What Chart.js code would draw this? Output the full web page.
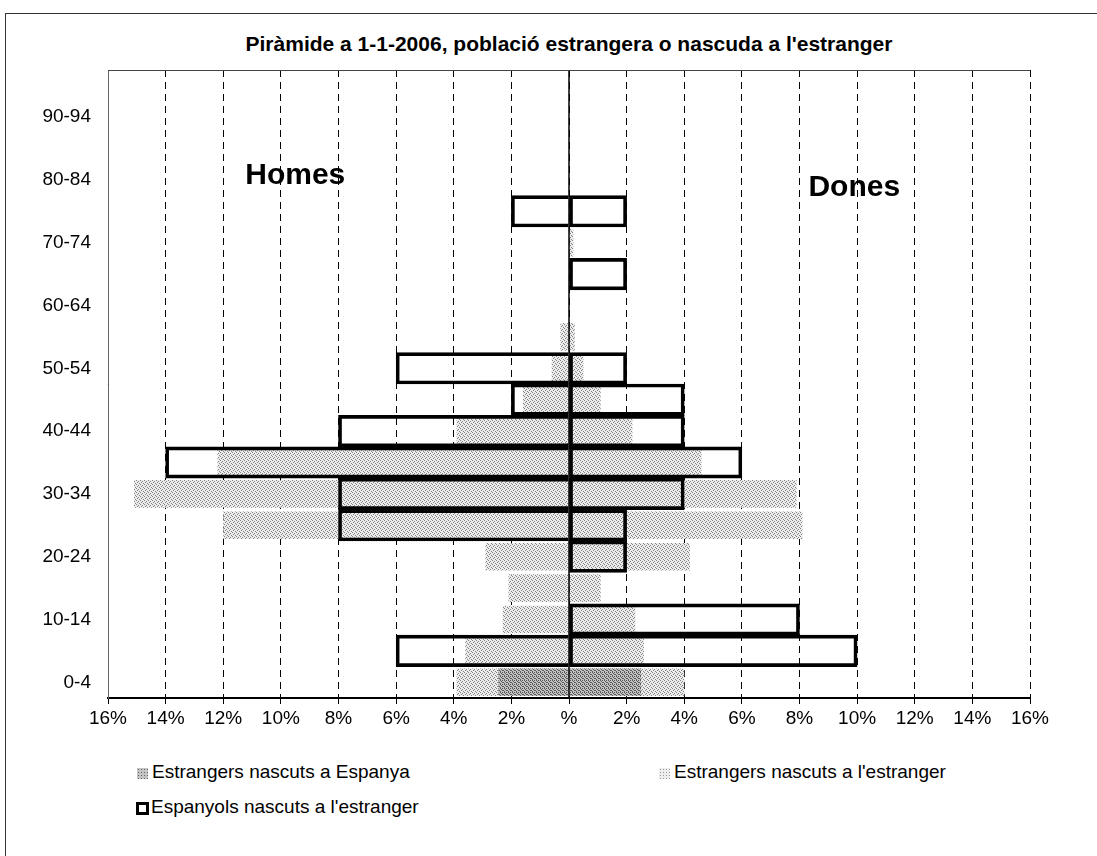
<!DOCTYPE html>
<html>
<head>
<meta charset="utf-8">
<script src="https://cdn.jsdelivr.net/npm/chart.js@4.4.0/dist/chart.umd.min.js"></script>
<style>
body { margin: 0; background: #fff; font-family: "Liberation Sans", Arial, sans-serif; color: #000; }
#page { position: relative; width: 1097px; height: 856px; overflow: hidden; background: #fff; }
#frame { position: absolute; left: 5px; top: 13px; right: -10px; bottom: -10px; border-left: 1px solid #333; border-top: 1px solid #333; }
#title { position: absolute; left: 0; top: 32px; width: 1138px; text-align: center; font-weight: bold; font-size: 21px; }
#chart { position: absolute; left: 0; top: 0; }
.leg { position: absolute; font-size: 19px; white-space: nowrap; }
.sw { display: inline-block; width: 11px; height: 11px; margin-right: 4px; vertical-align: -1px; box-sizing: border-box; }
.sw-dark { background-color: #c4c4c4; background-image: radial-gradient(#666 0.8px, transparent 0.9px); background-size: 3px 3px; }
.sw-light { background-color: #eee; background-image: radial-gradient(#999 0.8px, transparent 0.9px); background-size: 3px 3px; }
.sw-out { border: 3px solid #000; background: #fff; width: 13px; height: 13px; vertical-align: -2px; margin-right: 2px; }
</style>
</head>
<body>
<div id="page">
  <div id="frame"></div>
  <div id="title">Piràmide a 1-1-2006, població estrangera o nascuda a l'estranger</div>
  <canvas id="chart" width="1097" height="760"></canvas>
  <div class="leg" style="left:137px; top:761px;"><span class="sw sw-dark"></span>Estrangers nascuts a Espanya</div>
  <div class="leg" style="left:659px; top:761px;"><span class="sw sw-light"></span>Estrangers nascuts a l'estranger</div>
  <div class="leg" style="left:136px; top:796px;"><span class="sw sw-out"></span>Espanyols nascuts a l'estranger</div>
</div>
<script>
// age groups, bottom to top
var ageGroups = ['0-4', '5-9', '10-14', '15-19', '20-24', '25-29', '30-34', '35-39', '40-44', '45-49',
                 '50-54', '55-59', '60-64', '65-69', '70-74', '75-79', '80-84', '85-89', '90-94', '95-99'];

// % of population, men shown on the left
var menBornSpain     = [2.45, 0, 0, 0, 0, 0, 0, 0, 0, 0, 0, 0, 0, 0, 0, 0, 0, 0, 0, 0];
var womenBornSpain   = [2.5, 0, 0, 0, 0, 0, 0, 0, 0, 0, 0, 0, 0, 0, 0, 0, 0, 0, 0, 0];
var menBornAbroad    = [3.9, 3.6, 2.3, 2.1, 2.9, 12.0, 15.1, 12.2, 3.9, 1.6, 0.6, 0.3, 0, 0, 0, 0, 0, 0, 0, 0];
var womenBornAbroad  = [4.0, 2.6, 2.3, 1.1, 4.2, 8.1, 7.9, 4.6, 2.2, 1.1, 0.5, 0.2, 0, 0, 0.15, 0, 0, 0, 0, 0];
var menSpanish       = [0, 6, 0, 0, 0, 8, 8, 14, 8, 2, 6, 0, 0, 0, 0, 2, 0, 0, 0, 0];
var womenSpanish     = [0, 10, 8, 0, 2, 2, 4, 6, 4, 4, 2, 0, 0, 2, 0, 2, 0, 0, 0, 0];

var xMin = -16, xMax = 16, xStep = 2;

function neg(arr) { return arr.map(function (v) { return v ? -v : null; }); }
function pos(arr) { return arr.map(function (v) { return v ? v : null; }); }

// stippled fills like the printed original
function makePattern(bg, dot, pts) {
    var c = document.createElement('canvas');
    c.width = 4; c.height = 4;
    var g = c.getContext('2d');
    g.fillStyle = bg; g.fillRect(0, 0, 4, 4);
    g.fillStyle = dot;
    pts.forEach(function (p) { g.fillRect(p[0], p[1], 1, 1); });
    return g.createPattern(c, 'repeat');
}
var ctx = document.getElementById('chart').getContext('2d');
var lightFill = makePattern('#ececec', '#828282', [[0, 0], [2, 1], [1, 2], [3, 3]]);
var darkFill = makePattern('#c2c2c2', '#5a5a5a', [[0, 0], [2, 0], [1, 1], [3, 2], [0, 3], [2, 2]]);

var font = "'Liberation Sans', Arial, sans-serif";

var extras = {
    id: 'extras',
    afterDatasetsDraw: function (chart) {
        var c = chart.ctx, a = chart.chartArea;
        var x = chart.scales.x, y = chart.scales.y;
        c.save();
        // zero line
        c.strokeStyle = '#000';
        c.lineWidth = 1.5;
        c.beginPath();
        c.moveTo(x.getPixelForValue(0), a.top);
        c.lineTo(x.getPixelForValue(0), a.bottom);
        c.stroke();
        // top edge of plot area
        c.lineWidth = 1;
        c.strokeStyle = '#444';
        c.beginPath();
        c.moveTo(a.left, a.top + 0.5);
        c.lineTo(a.right, a.top + 0.5);
        c.stroke();
        // Homes / Dones
        c.fillStyle = '#000';
        c.font = 'bold 30px ' + font;
        c.textAlign = 'center';
        c.textBaseline = 'middle';
        c.fillText('Homes', x.getPixelForValue(-9.5), y.getPixelForValue(16) - 4);
        c.fillText('Dones', x.getPixelForValue(9.9), y.getPixelForValue(16) + 8);
        c.restore();
    }
};

function outline(label, data, skip) {
    return { label: label, data: data, backgroundColor: 'rgba(0,0,0,0)', borderColor: '#000',
             borderWidth: 3, borderSkipped: skip, categoryPercentage: 1, barPercentage: 1 };
}
function filled(label, data, fill) {
    return { label: label, data: data, backgroundColor: fill, borderWidth: 0,
             categoryPercentage: 1, barPercentage: 0.88 };
}

new Chart(ctx, {
    type: 'bar',
    data: {
        labels: ageGroups,
        datasets: [
            outline("Espanyols nascuts a l'estranger", neg(menSpanish), 'start'),
            outline("Espanyols nascuts a l'estranger", pos(womenSpanish), false),
            filled('Estrangers nascuts a Espanya', neg(menBornSpain), darkFill),
            filled('Estrangers nascuts a Espanya', pos(womenBornSpain), darkFill),
            filled("Estrangers nascuts a l'estranger", neg(menBornAbroad), lightFill),
            filled("Estrangers nascuts a l'estranger", pos(womenBornAbroad), lightFill)
        ]
    },
    options: {
        indexAxis: 'y',
        responsive: false,
        animation: false,
        layout: { padding: { top: 70, right: 67, left: 0, bottom: 0 } },
        plugins: {
            legend: { display: false },
            tooltip: { enabled: false },
            title: { display: false }
        },
        scales: {
            x: {
                min: xMin,
                max: xMax,
                stacked: false,
                ticks: {
                    stepSize: xStep,
                    color: '#000',
                    padding: 3,
                    font: { family: font, size: 19 },
                    callback: function (v) { return v === 0 ? '%' : Math.abs(v) + '%'; }
                },
                grid: { color: '#000', lineWidth: 1, tickLength: 6 },
                border: { display: true, color: '#000', width: 2, dash: [7, 5] },
                afterFit: function (s) { s.height = 62; }
            },
            y: {
                reverse: true,
                stacked: true,
                grid: { display: false },
                border: { display: true, color: '#666', width: 1 },
                ticks: {
                    autoSkip: false,
                    color: '#000',
                    padding: 9,
                    font: { family: font, size: 19 },
                    callback: function (v, i) { return i % 2 === 0 ? ageGroups[i] : ''; }
                },
                afterFit: function (s) { s.width = 108; }
            }
        }
    },
    plugins: [extras]
});
</script>
</body>
</html>
